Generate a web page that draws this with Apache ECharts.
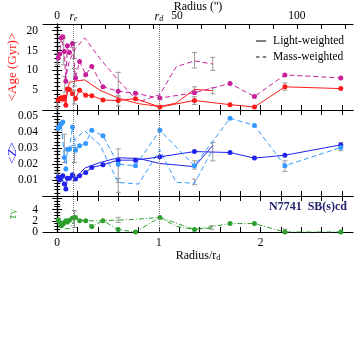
<!DOCTYPE html>
<html>
<head>
<meta charset="utf-8">
<title>N7741 age / metallicity / extinction profiles</title>
<script src="https://cdn.jsdelivr.net/npm/echarts@6.0.0/dist/echarts.min.js"></script>
<style>
  html, body { margin: 0; padding: 0; background: #fff; }
  #chart { width: 357px; height: 357px; }
</style>
</head>
<body>
<div id="chart"></div>
<script>
// radius in units of r_d, and the conversion to arcsec for the top axis
const X_MIN = -0.14, X_MAX = 2.91;
const RD_ARCSEC = 42.4;
const R_E = 0.156, R_D = 1;

// binned points (drawn with markers)
const rBin = [0.01, 0.025, 0.04, 0.055, 0.07, 0.085, 0.1, 0.12, 0.15, 0.18, 0.22, 0.28, 0.34, 0.45, 0.6, 0.77, 1.01, 1.35, 1.70, 1.94, 2.24, 2.79];
const ageLight = [2.5, 2.9, 3.1, 2.7, 3.3, 1.2, 5.3, 5.2, 4.1, 2.9, 5.0, 3.75, 3.6, 2.5, 2.4, 2.85, 0.75, 2.4, 1.35, 0.75, 5.85, 5.4];
const ageMass = [13.1, 14.1, 18.25, 18.5, 14.75, 7.25, 16.2, 14.5, 16.8, 8.1, 12.25, 8.9, 11.0, 5.85, 4.75, 4.2, 3.0, 4.35, 6.7, 3.4, 8.85, 8.1];
const zLight = [0.0117, 0.0100, 0.0117, 0.0127, 0.0075, 0.0044, 0.0112, 0.0112, 0.0134, 0.0106, 0.0127, 0.0148, 0.0179, 0.0196, 0.0225, 0.0225, 0.0246, 0.0279, 0.0273, 0.0238, 0.0256, 0.0321];
const zMass = [0.0425, 0.0440, 0.0454, 0.0465, 0.0242, 0.0169, 0.0294, 0.0294, 0.0434, 0.0288, 0.0315, 0.0330, 0.0413, 0.0378, 0.0200, 0.0190, 0.0413, 0.0190, 0.0488, 0.0443, 0.0190, 0.0304];
const tauV = [2.2, 1.7, 1.1, 1.4, 1.7, 2.0, 1.8, 2.1, 2.5, 2.6, 2.0, 2.0, 1.0, 2.0, 0.43, 0.0, 2.6, 0.43, 1.5, 1.5, 0.0, 0.0];

// second profile (lines only)
const rAlt = [0.075, 0.12, 0.18, 0.27, 0.42, 0.6, 0.8, 1.01, 1.17, 1.35, 1.53];
const ageLightAlt = [1.5, 7.0, 7.3, 7.6, 5.0, 3.0, 1.6, 0.85, 1.75, 5.2, 4.9];
const ageMassAlt = [7.0, 12.5, 15.5, 18.2, 13.0, 7.5, 2.0, 3.9, 10.9, 12.4, 11.6];
const zLightAlt = [0.0112, 0.0120, 0.0110, 0.0175, 0.0210, 0.0240, 0.0236, 0.0204, 0.0195, 0.0184, 0.0317];
const zMassAlt = [0.0300, 0.0280, 0.0360, 0.0410, 0.0320, 0.0085, 0.0075, 0.0290, 0.0086, 0.0080, 0.0294];
const tauAlt = [0.6, 0.6, 2.4, 2.0, 2.0, 2.1, 2.3, 2.6, 1.0, 0.45, 0.7];

// error bars: [r, low, high]
const ageErr = [[0.0, 11.4, 14.3], [0.0, 0.4, 2.2], [0.064, 11.4, 18.0], [0.075, 4.5, 8.5], [0.17, 13.0, 17.0], [0.17, 6.0, 10.5], [0.17, 1.5, 5.0],
  [0.6, 3.3, 9.5], [0.6, 1.0, 3.6], [1.35, 10.6, 14.5], [1.35, 4.5, 5.85], [1.35, 1.4, 3.35], [1.53, 10.0, 13.3], [1.53, 4.1, 5.6], [2.24, 5.0, 6.85]];
const zErr = [[0.0, 0.0409, 0.044], [0.0, 0.0106, 0.0148], [0.07, 0.021, 0.0388], [0.17, 0.021, 0.0304], [0.17, 0.0098, 0.013], [0.6, 0.0085, 0.0296],
  [0.6, 0.002, 0.011], [1.35, 0.0169, 0.0221], [1.35, 0.0071, 0.0106], [1.53, 0.0221, 0.0336], [2.24, 0.0154, 0.0221], [2.79, 0.0284, 0.0336]];
const tauErr = [[0.17, 0.8, 3.8], [0.6, 1.7, 2.6], [1.52, 0.5, 1.1], [2.24, 0.0, 0.5]];

// ticks / labels
const rTicks = [0, 0.2, 0.4, 0.6, 0.8, 1, 1.2, 1.4, 1.6, 1.8, 2, 2.2, 2.4, 2.6, 2.8];
const rLabels = [0, 1, 2];
const arcTicks = [0, 10, 20, 30, 40, 50, 60, 70, 80, 90, 100, 110, 120];
const arcLabels = [0, 50, 100];
const ageLabels = [5, 10, 15, 20];
const zLabels = [0.01, 0.02, 0.03, 0.04, 0.05];
const tauLabels = [0, 4];
const tauLabelsMid = [2];

const SERIF = 'Liberation Serif';
const RED = '#ff1a1a', MAG = '#c8209a', BLUE = '#2222ee', LBLUE = '#3399ff', GREEN = '#2e9e2e', GREY = '#999999';

function pairs(xs, ys) { return xs.map((x, i) => [x, ys[i]]); }

function renderErr(params, api) {
  const x = api.value(0);
  const lo = api.coord([x, api.value(1)]);
  const hi = api.coord([x, api.value(2)]);
  const w = 2.5;
  const st = { stroke: GREY, lineWidth: 1 };
  return { type: 'group', children: [
    { type: 'line', shape: { x1: lo[0], y1: lo[1], x2: hi[0], y2: hi[1] }, style: st },
    { type: 'line', shape: { x1: lo[0] - w, y1: lo[1], x2: lo[0] + w, y2: lo[1] }, style: st },
    { type: 'line', shape: { x1: hi[0] - w, y1: hi[1], x2: hi[0] + w, y2: hi[1] }, style: st }
  ] };
}

const tickStyle = { color: '#000', width: 1 };
const labelStyle = { fontFamily: SERIF, fontSize: 11.5, color: '#000' };

function xAxis(grid, pos, show, ticks, labels, min, max) {
  return {
    type: 'value', gridIndex: grid, position: pos, min: min, max: max,
    axisLine: { show: true, onZero: false, lineStyle: { color: '#000', width: 1.2 } },
    axisTick: { show: true, inside: true, length: 5, customValues: ticks, lineStyle: tickStyle },
    axisLabel: { show: show, customValues: labels, margin: pos === 'top' ? 2 : 5,
      showMinLabel: true, showMaxLabel: true, hideOverlap: false, ...labelStyle },
    splitLine: { show: false },
    nameMoveOverlap: false
  };
}

function yAxis(grid, pos, labels, min, max, interval, minorSplit, extra) {
  return Object.assign({
    type: 'value', gridIndex: grid, position: pos, min: min, max: max, interval: interval,
    axisLine: { show: true, lineStyle: { color: '#000', width: 1.2 } },
    axisTick: { show: true, inside: true, length: 5, lineStyle: tickStyle },
    minorTick: { show: true, splitNumber: minorSplit, length: 3, lineStyle: tickStyle },
    axisLabel: { show: !!labels, customValues: labels || undefined, margin: 5,
      showMinLabel: true, showMaxLabel: true, hideOverlap: false, ...labelStyle },
    splitLine: { show: false },
    nameMoveOverlap: false
  }, extra || {});
}

function vLines(withLabels) {
  const rich = {
    i: { fontFamily: SERIF, fontStyle: 'italic', fontSize: 12, color: '#000', verticalAlign: 'bottom' },
    s: { fontFamily: SERIF, fontStyle: 'italic', fontSize: 8, color: '#000', verticalAlign: 'bottom', padding: [7, 0, 0, 0] }
  };
  return {
    symbol: 'none', silent: true, animation: false,
    lineStyle: { type: 'dotted', color: '#777', width: 1 },
    label: { show: withLabels, position: 'end', distance: 1, rich: rich },
    data: [
      { xAxis: R_E, label: { formatter: '{i|r}{s|e}' } },
      { xAxis: R_D, label: { formatter: '{i|r}{s|d}' } }
    ]
  };
}

function markerLine(name, xi, yi, data, color, dash, ml) {
  return {
    name: name, type: 'line', xAxisIndex: xi, yAxisIndex: yi, data: data,
    symbol: 'circle', symbolSize: 5, color: color,
    itemStyle: { color: color },
    lineStyle: { color: color, width: 1, type: dash },
    markLine: ml, animation: false, z: 3
  };
}

function plainLine(name, xi, yi, data, color, dash) {
  return {
    name: name, type: 'line', xAxisIndex: xi, yAxisIndex: yi, data: data,
    symbol: 'none', color: color,
    lineStyle: { color: color, width: 1, type: dash }, animation: false, z: 2
  };
}

function errSeries(xi, yi, data) {
  return { type: 'custom', xAxisIndex: xi, yAxisIndex: yi, data: data, renderItem: renderErr,
    encode: { x: 0, y: [1, 2] }, animation: false, z: 1 };
}

const chart = echarts.init(document.getElementById('chart'), null, { renderer: 'canvas' });

const DASH = [5, 3];
const DASHDOT = [5, 2, 1, 2];

const option = {
  backgroundColor: '#fff',
  grid: [
    { left: 43, right: 4, top: 24, height: 86, outerBoundsMode: 'none' },
    { left: 43, right: 4, top: 110, height: 86, outerBoundsMode: 'none' },
    { left: 43, right: 4, top: 196, height: 36, outerBoundsMode: 'none' }
  ],
  xAxis: [
    xAxis(0, 'bottom', false, rTicks, rLabels, X_MIN, X_MAX),
    Object.assign(xAxis(0, 'top', true, arcTicks, arcLabels, X_MIN * RD_ARCSEC, X_MAX * RD_ARCSEC), {
      name: "Radius ('')", nameLocation: 'middle', nameGap: 11,
      nameTextStyle: { fontFamily: SERIF, fontSize: 12, color: '#000' }
    }),
    xAxis(1, 'bottom', false, rTicks, rLabels, X_MIN, X_MAX),
    xAxis(1, 'top', false, rTicks, rLabels, X_MIN, X_MAX),
    Object.assign(xAxis(2, 'bottom', true, rTicks, rLabels, X_MIN, X_MAX), {
      name: '{n|Radius/}{i|r}{s|d}', nameLocation: 'middle', nameGap: 15,
      nameTextStyle: { rich: {
        n: { fontFamily: SERIF, fontSize: 12, color: '#000', verticalAlign: 'bottom' },
        i: { fontFamily: SERIF, fontSize: 12, color: '#000', verticalAlign: 'bottom' },
        s: { fontFamily: SERIF, fontSize: 8, color: '#000', verticalAlign: 'bottom', padding: [7, 0, 0, 0] }
      } }
    }),
    xAxis(2, 'top', false, rTicks, rLabels, X_MIN, X_MAX)
  ],
  yAxis: [
    yAxis(0, 'left', ageLabels, 0, 21.7, 5, 5, {
      name: '<Age (Gyr)>', nameLocation: 'middle', nameGap: 24,
      nameTextStyle: { fontFamily: SERIF, fontSize: 13, color: RED }
    }),
    yAxis(0, 'right', null, 0, 21.7, 5, 5),
    yAxis(1, 'left', zLabels, 0, 0.054, 0.01, 5, {
      name: '{a|<}{z|Z}{a|>}', nameLocation: 'middle', nameGap: 24,
      nameTextStyle: { rich: {
        a: { fontFamily: SERIF, fontSize: 13, color: BLUE },
        z: { fontFamily: SERIF, fontSize: 13, fontStyle: 'italic', color: BLUE }
      } }
    }),
    yAxis(1, 'right', null, 0, 0.054, 0.01, 5),
    yAxis(2, 'left', tauLabels, 0, 6.4, 2, 4, {
      name: '{t|τ}{s|V}', nameLocation: 'middle', nameGap: 24,
      nameTextStyle: { rich: {
        t: { fontFamily: SERIF, fontSize: 13, fontStyle: 'italic', color: GREEN, verticalAlign: 'bottom' },
        s: { fontFamily: SERIF, fontSize: 8, color: GREEN, verticalAlign: 'bottom', padding: [6, 0, 0, 0] }
      } }
    }),
    yAxis(2, 'right', null, 0, 6.4, 2, 4),
    // second label layer for the tau axis (same scale, labels only)
    yAxis(2, 'left', tauLabelsMid, 0, 6.4, 2, 4, {
      axisLine: { show: false }, axisTick: { show: false }, minorTick: { show: false }
    })
  ],
  legend: {
    data: [
      { name: 'Light-weighted', icon: 'path://M0 0H10V1H0Z' },
      { name: 'Mass-weighted', icon: 'path://M0 0H3V1H0Z M6 0H9V1H6Z' }
    ],
    orient: 'vertical', right: 8, top: 30, itemGap: 4, itemWidth: 10, itemHeight: 1.3,
    textStyle: { fontFamily: SERIF, fontSize: 11.5, color: '#000', padding: [0, 0, 0, 2] },
    selectedMode: false
  },
  graphic: [
    { type: 'text', right: 10, top: 201, style: { text: 'N7741  SB(s)cd', font: 'bold 12px "Liberation Serif"', fill: '#22226e' } }
  ],
  series: [
    // legend entries
    { name: 'Light-weighted', type: 'line', xAxisIndex: 0, yAxisIndex: 0, data: [], symbol: 'none', color: '#000', lineStyle: { color: '#000', width: 1 } },
    { name: 'Mass-weighted', type: 'line', xAxisIndex: 0, yAxisIndex: 0, data: [], symbol: 'none', color: '#000', lineStyle: { color: '#000', width: 1 } },

    // age panel
    errSeries(0, 0, ageErr),
    plainLine('ageLightAlt', 0, 0, pairs(rAlt, ageLightAlt), RED, 'solid'),
    plainLine('ageMassAlt', 0, 0, pairs(rAlt, ageMassAlt), MAG, DASH),
    markerLine('ageLight', 0, 0, pairs(rBin, ageLight), RED, 'solid', vLines(true)),
    markerLine('ageMass', 0, 0, pairs(rBin, ageMass), MAG, DASH),

    // metallicity panel
    errSeries(2, 2, zErr),
    plainLine('zLightAlt', 2, 2, pairs(rAlt, zLightAlt), BLUE, 'solid'),
    plainLine('zMassAlt', 2, 2, pairs(rAlt, zMassAlt), LBLUE, DASH),
    markerLine('zLight', 2, 2, pairs(rBin, zLight), BLUE, 'solid', vLines(false)),
    markerLine('zMass', 2, 2, pairs(rBin, zMass), LBLUE, DASH),

    // extinction panel
    errSeries(4, 4, tauErr),
    plainLine('tauAlt', 4, 4, pairs(rAlt, tauAlt), GREEN, DASHDOT),
    markerLine('tauV', 4, 4, pairs(rBin, tauV), GREEN, DASHDOT, vLines(false))
  ]
};

chart.setOption(option);
</script>
</body>
</html>
